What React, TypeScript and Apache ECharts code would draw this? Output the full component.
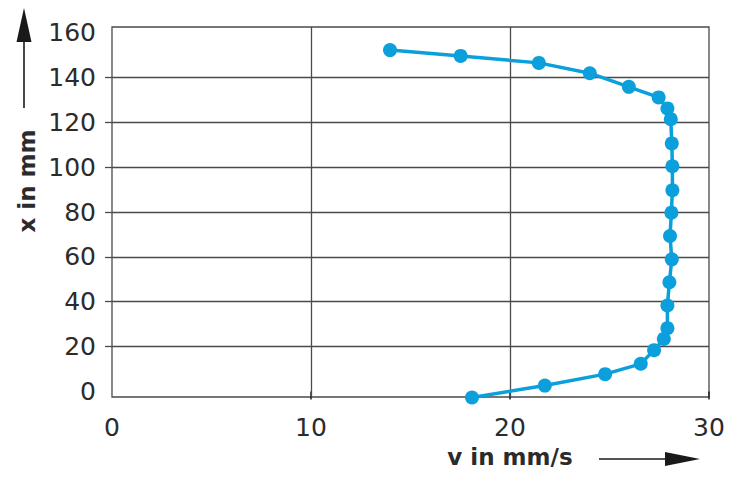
import React, { useEffect, useRef } from "react";
import * as echarts from "echarts";

const velocity = [13.97, 17.52, 21.45, 24.01, 25.97, 27.47, 27.91, 28.08, 28.13, 28.16, 28.16, 28.11, 28.04, 28.13, 28.01, 27.91, 27.91, 27.73, 27.24, 26.57, 24.78, 21.75, 18.09];
const position = [152.2, 149.6, 146.5, 141.9, 135.8, 131.1, 126.2, 121.4, 110.6, 100.4, 89.7, 79.7, 69.3, 58.9, 48.7, 38.3, 28.2, 23.4, 18.4, 12.3, 7.7, 2.6, -2.7];
const yTickLabels = [0, 20, 40, 60, 80, 100, 120, 140, 160];
const yInnerLines = [20, 40, 60, 80, 100, 120, 140];
const xTickValues = [10, 20, 30];
const xInnerLines = [10, 20];

const FONT = "DejaVu Sans";
const TXT = "#2b2b2b";
const GRID = "#4a4a4a";
const BLUE = "#0b9fdc";

export default function App() {
  const ref = useRef<HTMLDivElement>(null);
  useEffect(() => {
    if (!ref.current) return;
    const chart = echarts.init(ref.current, undefined, { renderer: "svg" });
    const data = velocity.map((v, i) => [v, position[i]]);
    chart.setOption({
      animation: false,
      backgroundColor: "#ffffff",
      grid: {
        left: 112,
        right: 46,
        top: 27,
        bottom: 91,
        show: true,
        borderColor: GRID,
        borderWidth: 1.3,
        backgroundColor: "transparent",
      },
      xAxis: {
        type: "value",
        min: 0,
        max: 30,
        interval: 10,
        axisLine: { show: false },
        splitLine: { show: false },
        axisTick: {
          show: true,
          inside: false,
          length: 8,
          customValues: xTickValues,
          lineStyle: { color: "#222", width: 1.5 },
        },
        axisLabel: {
          fontFamily: FONT,
          fontSize: 25,
          color: TXT,
          margin: 18,
        },
      },
      yAxis: {
        type: "value",
        min: -2.5,
        max: 162.5,
        axisLine: { show: false },
        splitLine: { show: false },
        axisTick: {
          show: true,
          length: 7,
          customValues: yInnerLines,
          lineStyle: { color: GRID, width: 1.3 },
        },
        axisLabel: {
          customValues: yTickLabels,
          fontFamily: FONT,
          fontSize: 25,
          color: TXT,
          margin: 16,
          padding: [4, 0, 0, 0],
        },
      },
      graphic: [
        {
          type: "text",
          x: 27,
          y: 181,
          rotation: Math.PI / 2,
          style: {
            text: "x in mm",
            fontFamily: FONT,
            fontWeight: "bold",
            fontSize: 23,
            fill: TXT,
            align: "center",
            verticalAlign: "middle",
          },
        },
        {
          type: "line",
          shape: { x1: 24, y1: 108, x2: 24, y2: 30 },
          style: { stroke: "#1a1a1a", lineWidth: 1.6 },
        },
        {
          type: "polygon",
          shape: { points: [[24, 8], [31.5, 42], [16.5, 42]] },
          style: { fill: "#1a1a1a" },
        },
        {
          type: "text",
          x: 510,
          y: 457,
          style: {
            text: "v in mm/s",
            fontFamily: FONT,
            fontWeight: "bold",
            fontSize: 23,
            fill: TXT,
            align: "center",
            verticalAlign: "middle",
          },
        },
        {
          type: "line",
          shape: { x1: 599, y1: 459, x2: 680, y2: 459 },
          style: { stroke: "#1a1a1a", lineWidth: 1.6 },
        },
        {
          type: "polygon",
          shape: { points: [[700, 459], [665, 452], [665, 466]] },
          style: { fill: "#1a1a1a" },
        },
      ],
      series: [
        {
          type: "line",
          data,
          clip: false,
          symbol: "circle",
          symbolSize: 14,
          itemStyle: { color: BLUE },
          lineStyle: { color: BLUE, width: 3.5 },
          z: 5,
          markLine: {
            silent: true,
            symbol: "none",
            label: { show: false },
            lineStyle: { color: GRID, width: 1.3, type: "solid" },
            z: 1,
            data: [
              ...yInnerLines.map((v) => ({ yAxis: v })),
              ...xInnerLines.map((v) => ({ xAxis: v })),
            ],
          },
        },
      ],
    });
    return () => chart.dispose();
  }, []);
  return (
    <div
      ref={ref}
      style={{ position: "absolute", left: 0, top: 0, width: 755, height: 488 }}
    />
  );
}
